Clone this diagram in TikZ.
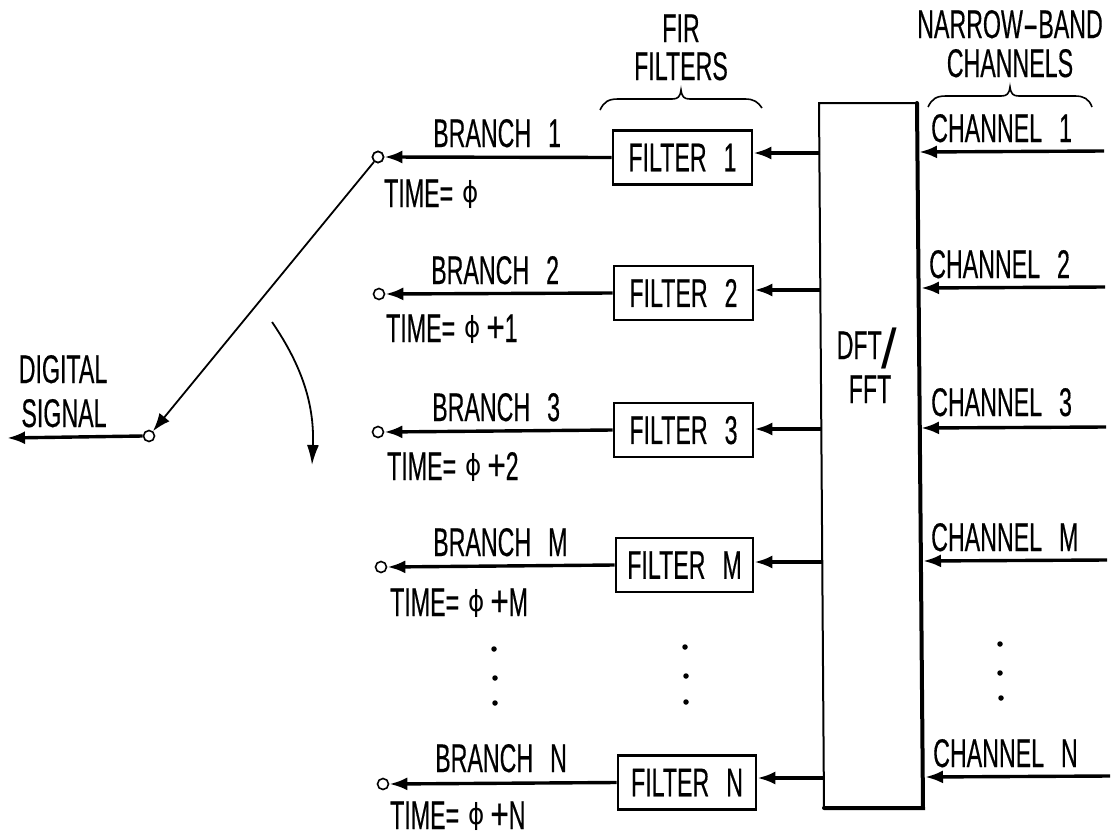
\documentclass[tikz,border=0pt]{standalone}
\usepackage{fontspec}
\setmainfont[FakeStretch=0.58,FakeBold=0.35]{Liberation Sans}
\newfontfamily\phifont[FakeStretch=0.85]{DejaVu Sans}
\newfontfamily\plainfont{Liberation Sans}
\newcommand{\phisym}{\hspace{9pt}\raisebox{5pt}{\fontsize{29}{29}\phifont ϕ}}
\newcommand{\plussym}{\hspace{6pt}\scalebox{1.35}[1.1]{+}}
\newcommand{\gap}{\hspace{17pt}}
\usetikzlibrary{arrows.meta}
\tikzset{
  lab/.style={anchor=base west,inner sep=0pt,font=\fontsize{40}{40}\selectfont},
  clab/.style={anchor=base,inner sep=0pt,font=\fontsize{40}{40}\selectfont},
  filt/.style={draw,line width=2.6pt,inner sep=0pt,minimum height=54pt,text depth=0pt,font=\fontsize{40}{40}\selectfont},
  sw/.style={circle,draw,line width=1.6pt,fill=white,minimum size=11pt,inner sep=0pt},
  sig/.style={line width=3.4pt,-{Latex[length=18pt,width=13pt]}},
  thin1/.style={line width=1.8pt},
  dotm/.style={circle,fill=black,minimum size=5.5pt,inner sep=0pt},
  brc/.style={line width=1.6pt},
}
\begin{document}
\begin{tikzpicture}[x=1pt,y=-1pt]
\useasboundingbox (0,0) rectangle (1112,838);
% DFT block
\coordinate (dNW) at (819,103);
\coordinate (dNE) at (917,103);
\coordinate (dSE) at (923,808);
\coordinate (dSW) at (824,808);
\draw[line width=2pt] (dSW) -- (dNW) -- (dNE);
\draw[line width=4pt,line cap=round] (dNE) -- (dSE) -- (dSW);
\node[clab] (dft1) at (867,359) {DFT\raisebox{-9pt}{\scalebox{1.4}{\plainfont /}}};
\node[clab] (dft2) at (870,403) {FFT};
% filters
\node[filt,minimum width=139pt] (f1) at (682.5,157.5) {FILTER\gap 1};
\node[filt,minimum width=139pt] (f2) at (683.5,293) {FILTER\gap 2};
\node[filt,minimum width=139pt] (f3) at (683.5,430) {FILTER\gap 3};
\node[filt,minimum width=137pt] (fm) at (684.5,565) {FILTER\gap M};
\node[filt,minimum width=138pt] (fn) at (687,782.5) {FILTER\gap N};
% switch contacts
\node[sw] (s1) at (378,157) {};
\node[sw] (s2) at (379,294) {};
\node[sw] (s3) at (378,432) {};
\node[sw] (sm) at (381,567) {};
\node[sw] (sn) at (383,784) {};
\node[sw] (s0) at (149,436) {};
% connectors filter -> contact
\foreach \a/\b in {f1/s1,f2/s2,f3/s3,fm/sm,fn/sn}
  \draw[sig] (\a.west) -- (\b.east);
% DFT to filters
\coordinate (o1) at (820,153);
\coordinate (o2) at (821,290);
\coordinate (o3) at (822,429);
\coordinate (om) at (822,562);
\coordinate (on) at (824,778);
\foreach \a/\b in {o1/f1,o2/f2,o3/f3,om/fm,on/fn}
  \draw[sig] (\a) -- (\a -| \b.east);
% channels
\coordinate (c1) at (1104,151);
\coordinate (c2) at (1105,287);
\coordinate (c3) at (1106,427);
\coordinate (cm) at (1107,560);
\coordinate (cn) at (1110,776);
\coordinate (d1) at (919,152);
\coordinate (d2) at (921,288);
\coordinate (d3) at (921,428);
\coordinate (dm) at (923,561);
\coordinate (dn) at (925,777);
\foreach \a/\b in {c1/d1,c2/d2,c3/d3,cm/dm,cn/dn}
  \draw[sig] (\a) -- (\b);
% switch arm and output
\draw[thin1,-{Latex[length=18pt,width=13pt]}] (s1) -- (s0);
\node[sw] at (s1) {};
\coordinate (out) at (7,438);
\draw[sig] (s0.west) -- (out);
% rotation arrow
\coordinate (ra) at (272,322);
\coordinate (rb) at (312,465);
\draw[line width=1.8pt,-{Latex[length=20pt,width=12pt]}] (ra) .. controls (298,360) and (315,400) .. (rb);
% braces
\coordinate (bf) at (681,90);
\draw[brc] (600,110) .. controls (604,102) and (608,99) .. (618,99) -- (672,99) .. controls (678,99) and (680,97) .. (bf) .. controls (682,97) and (684,99) .. (690,99) -- (745,99) .. controls (754,99) and (758,102) .. (762,108);
\coordinate (bc) at (1010,87);
\draw[brc] (928,107) .. controls (932,99) and (936,96) .. (946,96) -- (1001,96) .. controls (1007,96) and (1009,94) .. (bc) .. controls (1011,94) and (1013,96) .. (1019,96) -- (1075,96) .. controls (1084,96) and (1089,99) .. (1092,107);
% labels
\node[clab] (t1) at (681,42) {FIR};
\node[clab] (t2) at (681,80) {FILTERS};
\node[clab] (t3) at (1010,38) {NARROW\scalebox{2}[1]{-}BAND};
\node[clab] (t4) at (1010,77) {CHANNELS};
\node[clab] (t5) at (63,383) {DIGITAL};
\node[clab] (t6) at (64,427) {SIGNAL};
\node[lab] (b1) at (433,147) {BRANCH\gap 1};
\node[lab] (b2) at (431,284) {BRANCH\gap 2};
\node[lab] (b3) at (432,421) {BRANCH\gap 3};
\node[lab] (bm) at (433,556) {BRANCH\gap M};
\node[lab] (bn) at (435,772) {BRANCH\gap N};
\node[lab] (ti1) at (384,207) {TIME=\phisym};
\node[lab] (ti2) at (386,342) {TIME=\phisym\plussym 1};
\node[lab] (ti3) at (387,480) {TIME=\phisym\plussym 2};
\node[lab] (tim) at (390,616) {TIME=\phisym\plussym M};
\node[lab] (tin) at (390,829) {TIME=\phisym\plussym N};
\node[lab] (c1t) at (931,142) {CHANNEL\gap 1};
\node[lab] (c2t) at (929,278) {CHANNEL\gap 2};
\node[lab] (c3t) at (931,416) {CHANNEL\gap 3};
\node[lab] (cmt) at (931,551) {CHANNEL\gap M};
\node[lab] (cnt) at (933,767) {CHANNEL\gap N};
% ellipsis dots
\foreach \n/\x/\y in {p1/494/649,p2/495/678,p3/495/703,q1/685/647,q2/686/676,q3/686/702,r1/1000/644,r2/1000/673,r3/1001/698}
  \node[dotm] (\n) at (\x,\y) {};
\end{tikzpicture}
\end{document}
